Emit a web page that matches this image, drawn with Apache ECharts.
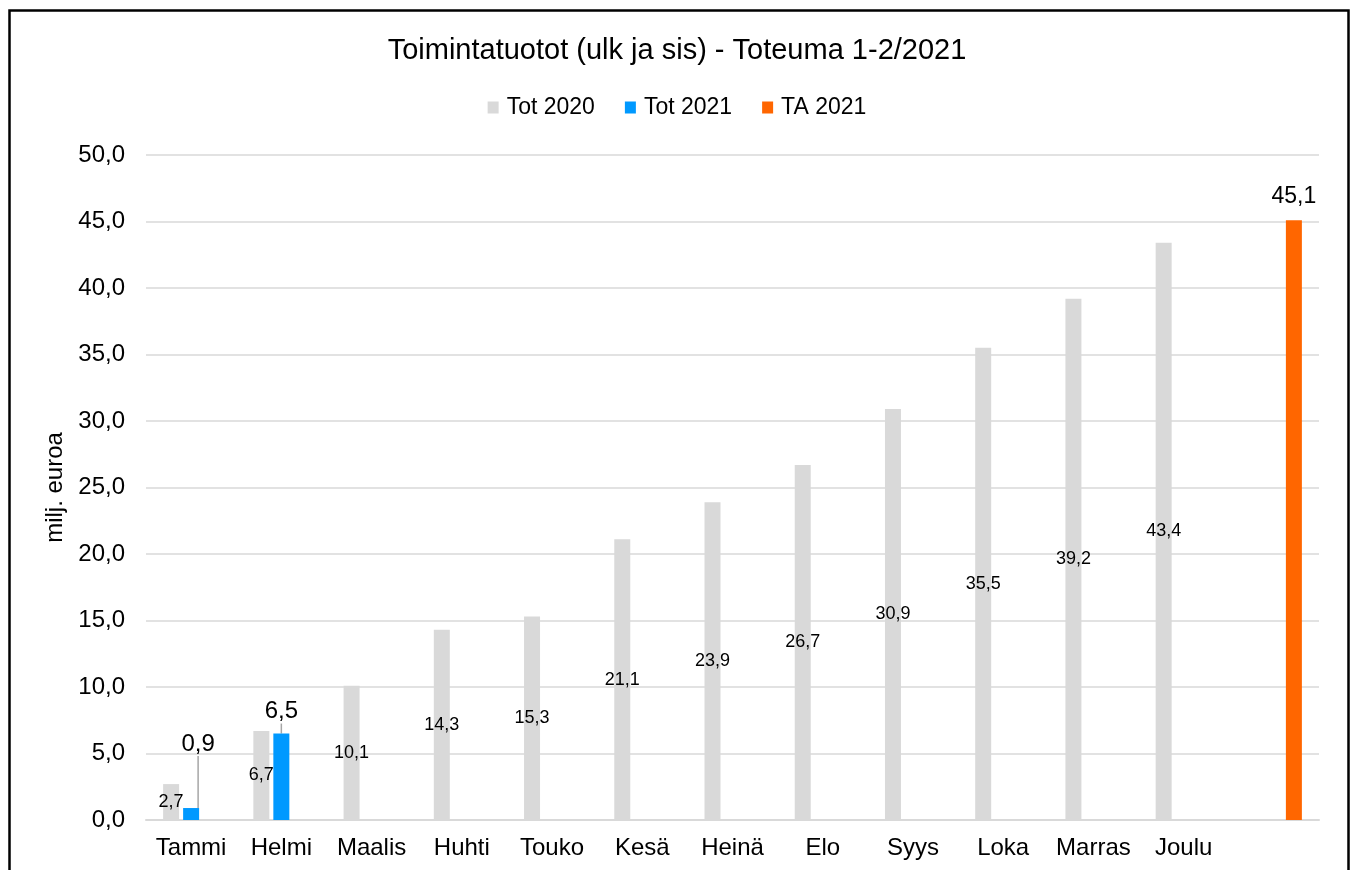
<!DOCTYPE html>
<html>
<head>
<meta charset="utf-8">
<script src="https://cdn.jsdelivr.net/npm/echarts@6/dist/echarts.min.js"></script>
<style>
html,body{margin:0;padding:0;background:#fff;}
#chart{width:1354px;height:870px;}
</style>
</head>
<body>
<div id="chart"></div>
<script>
var categories = ['Tammi','Helmi','Maalis','Huhti','Touko','Kesä','Heinä','Elo','Syys','Loka','Marras','Joulu',''];
var tot2020 = [2.7, 6.7, 10.1, 14.3, 15.3, 21.1, 23.9, 26.7, 30.9, 35.5, 39.2, 43.4, null];
var tot2021 = [0.9, 6.5, null, null, null, null, null, null, null, null, null, null, null];
var ta2021 = [null, null, null, null, null, null, null, null, null, null, null, null, 45.1];
var seriesNames = ['Tot 2020','Tot 2021','TA 2021'];
var titleText = 'Toimintatuotot (ulk ja sis) - Toteuma 1-2/2021';
var yAxisName = 'milj. euroa';

var FONT = '"Liberation Sans", Arial, sans-serif';
function fmt(v){ return (typeof v === 'number' ? v : Number(v)).toFixed(1).replace('.', ','); }

var chart = echarts.init(document.getElementById('chart'), null, {renderer:'canvas'});
chart.setOption({
  animation: false,
  textStyle: {fontFamily: FONT, color: '#000'},
  title: {
    text: titleText, left: 'center', top: 31,
    textStyle: {fontFamily: FONT, fontSize: 29, fontWeight: 'normal', color: '#000'}
  },
  legend: {
    data: seriesNames, top: 91, left: 'center',
    itemWidth: 11, itemHeight: 12, itemGap: 30,
    icon: 'rect',
    textStyle: {fontFamily: FONT, fontSize: 23, color: '#000', padding: [0,0,0,3]}
  },
  graphic: [{
    type: 'rect', shape: {x: 9.5, y: 10.5, width: 1339, height: 900},
    style: {fill: 'none', stroke: '#000', lineWidth: 2.5}, silent: true
  }],
  grid: {left: 146, right: 35, top: 155, bottom: 50, containLabel: false},
  xAxis: {
    type: 'category', data: categories,
    axisLine: {lineStyle: {color: '#d9d9d9', width: 2}},
    axisTick: {show: false},
    axisLabel: {fontFamily: FONT, fontSize: 24, color: '#000', margin: 16, interval: 0}
  },
  yAxis: {
    type: 'value', min: 0, max: 50, interval: 5,
    name: yAxisName, nameLocation: 'middle', nameGap: 76, nameRotate: 90,
    nameTextStyle: {fontFamily: FONT, fontSize: 24, color: '#000'},
    axisLine: {show: false}, axisTick: {show: false},
    splitLine: {lineStyle: {color: '#d9d9d9', width: 1.5}},
    axisLabel: {fontFamily: FONT, fontSize: 24, color: '#000', margin: 21, formatter: function(v){return fmt(v);}}
  },
  series: [
    {
      name: seriesNames[0], type: 'bar', data: tot2020,
      barWidth: 16, barGap: '25%',
      itemStyle: {color: '#d9d9d9'},
      label: {show: true, position: 'inside', fontFamily: FONT, fontSize: 18, color: '#000',
        formatter: function(p){ return fmt(p.value); }}
    },
    {
      name: seriesNames[1], type: 'bar', data: tot2021,
      barWidth: 16, barGap: '25%',
      itemStyle: {color: '#0099ff'},
      label: {show: true, position: 'top', distance: 10, fontFamily: FONT, fontSize: 24, color: '#000',
        formatter: function(p){ return fmt(p.value); }},
      labelLine: {show: true, lineStyle: {color: '#a6a6a6', width: 1.5}},
      labelLayout: function(params){
        if (params.dataIndex === 0) { return {dx: 7, dy: -42}; }
        return {};
      }
    },
    {
      name: seriesNames[2], type: 'bar', data: ta2021,
      barWidth: 16, barGap: '25%',
      itemStyle: {color: '#ff6600'},
      label: {show: true, position: 'top', distance: 12, fontFamily: FONT, fontSize: 23, color: '#000',
        formatter: function(p){ return fmt(p.value); }}
    }
  ]
});
</script>
</body>
</html>
